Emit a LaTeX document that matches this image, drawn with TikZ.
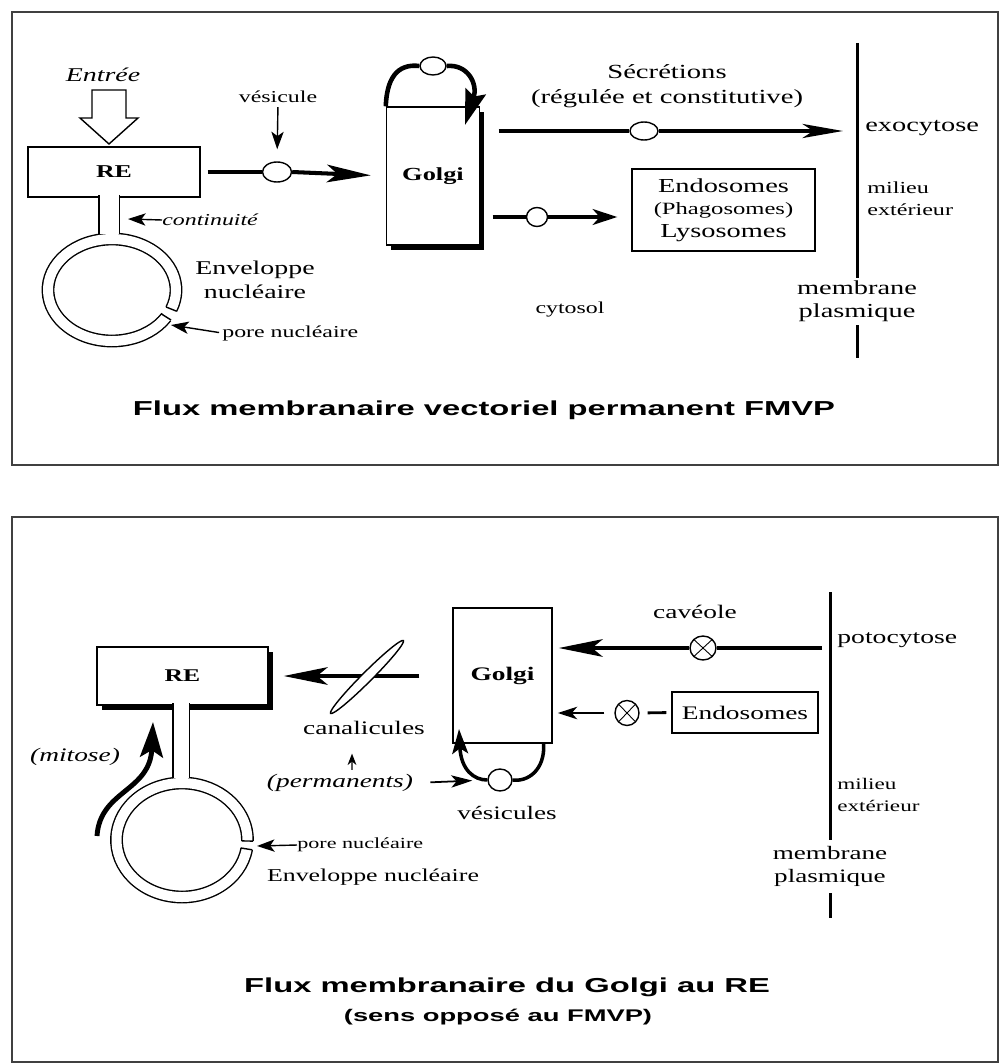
\documentclass[tikz,border=0pt]{standalone}
\usepackage{fontspec}
\setmainfont{Liberation Serif}[FakeStretch=1.43]
\newfontfamily\titlefont{Liberation Sans}[FakeStretch=1.62]
\usetikzlibrary{arrows.meta,shapes.geometric,shadows}
\newcommand\fsL{\fontsize{11.3}{13.6}\selectfont}
\newcommand\fsS{\fontsize{9.5}{12.5}\selectfont}

\begin{document}
\begin{tikzpicture}[x=0.02cm,y=-0.02cm,>=Stealth,
  box/.style={draw,line width=0.8pt,fill=white,inner sep=0pt},
  shbox/.style={box,general shadow={fill=black,shadow xshift=2.6pt,shadow yshift=-2.6pt}},
  ves/.style={draw,ellipse,line width=0.8pt,fill=white,inner sep=0pt},
  xves/.style={ves,path picture={\draw[line width=0.5pt](path picture bounding box.north west)--(path picture bounding box.south east)(path picture bounding box.north east)--(path picture bounding box.south west);}},
  lbl/.style={inner sep=0pt,font=\fsL},
  lbls/.style={inner sep=0pt,font=\fsS},
  flux/.style={line width=2.3pt},
  bigarr/.style={-{Stealth[length=25pt,width=10pt,inset=6pt]}},
  smallarr/.style={line width=0.8pt,-{Stealth[length=10pt,width=7pt,inset=2.5pt]}},
  tube/.style={line width=0.8pt,double=white,double distance=#1},
  frame/.style={line width=1.5pt,draw=black!75}]
\useasboundingbox (0,0) rectangle (1002,1064);
\draw[frame] (12,12) rectangle (998,465);
\draw[frame] (12,517) rectangle (998,1062);

\node[lbl,font=\fontsize{11.1}{12}\selectfont\itshape] (entree) at (103,75) {Entrée};
\node[box,minimum width=3.44cm,minimum height=1cm,font=\fontsize{10.3}{12}\selectfont\bfseries] (re1) at (114,172) {RE};
\draw[line width=0.8pt] (92,90)--(126,90)--(126,118)--(138,118)--(109,144)--(80,118)--(92,118)--cycle;
\coordinate (nuc1) at (112,290);
\draw[tube=0.2cm] ([shift={(32:64 and 51)}]nuc1) arc[start angle=32,end angle=382,x radius=64,y radius=51];
\draw[line width=0.8pt] ([shift={(32:58.3 and 45.3)}]nuc1)--([shift={(32:69.7 and 56.7)}]nuc1)
  ([shift={(22:58.3 and 45.3)}]nuc1)--([shift={(22:69.7 and 56.7)}]nuc1);
\draw[tube=0.38cm] (109,195)--(109,234);
\node[lbls,font=\fsS\itshape,anchor=west] (cont) at (162,220) {continuité};
\coordinate (cont1) at (128,219);
\draw[smallarr] (cont.west) -- (cont1);
\node[lbl,align=center,font=\fontsize{11.1}{13.6}\selectfont] (env1) at (255,280) {Enveloppe\\nucléaire};
\node[lbls,anchor=west] (pore1) at (222,333) {pore nucléaire};
\coordinate (pt1) at (171,325);
\draw[smallarr,shorten <=0.06cm] (pore1.west) -- (pt1);

\node[lbls] (vesl) at (278,97) {vésicule};
\node[ves,minimum width=0.58cm,minimum height=0.4cm] (ves1) at (277,172) {};
\draw[smallarr,shorten <=0.08cm,shorten >=0.24cm] (vesl.south) -- (ves1.north);
\node[shbox,minimum width=1.86cm,minimum height=2.76cm,font=\fontsize{10.5}{12}\selectfont\bfseries] (g1) at (433,176) {Golgi};
\draw[flux,shorten <=0.14cm] (re1.east) -- (ves1.west);
\draw[flux,bigarr,shorten >=0.3cm] (ves1.east) -- (g1.west);
\node[ves,minimum width=0.52cm,minimum height=0.36cm] (ves2) at (433,66) {};
\coordinate (g1in) at (465,125);
\draw[line width=2.6pt] (g1.north west) .. controls (387,72) and (402,64) .. (ves2.west);
\draw[line width=2.6pt,-{Stealth[length=20pt,width=12pt,inset=3pt]}] (ves2.east) .. controls (468,64) and (478,84) .. (g1in);

\node[lbl,align=center,font=\fontsize{11.4}{14.2}\selectfont] (secr) at (667,86) {Sécrétions\\(régulée et constitutive)};
\node[ves,minimum width=0.56cm,minimum height=0.36cm] (ves3) at (644,131) {};
\coordinate (mem1a) at (857,43);
\coordinate (mem1b) at (857,278);
\coordinate (mem1c) at (857,325);
\coordinate (mem1d) at (857,358);
\draw[line width=1.7pt] (mem1a)--(mem1b) (mem1c)--(mem1d);
\draw[flux,shorten <=0.37cm] (g1.east |- ves3) -- (ves3.west);
\draw[flux,-{Stealth[length=23pt,width=8pt,inset=6pt]},shorten >=0.28cm] (ves3.east) -- (ves3 -| mem1a);
\node[lbl,anchor=west] (exo) at (865,128) {exocytose};
\node[lbls,anchor=west,align=left,font=\fontsize{9.6}{12.5}\selectfont] (mil1) at (867,199) {milieu\\extérieur};
\node[lbl,align=center,font=\fontsize{11.3}{13}\selectfont] (mp1) at (857,301.5) {membrane\\plasmique};

\node[box,minimum width=3.66cm,minimum height=1.64cm,align=center,font=\fontsize{11.3}{12.8}\selectfont] (en1) at (723.5,210) {Endosomes\\{\fontsize{9.8}{12.8}\selectfont(Phagosomes)}\\Lysosomes};
\node[ves,minimum width=0.42cm,minimum height=0.38cm] (ves4) at (537,217) {};
\draw[line width=2pt,shorten <=0.25cm] (g1.east |- ves4) -- (ves4.west);
\draw[line width=2pt,-{Stealth[length=14pt,width=9pt,inset=4pt]},shorten >=0.28cm] (ves4.east) -- (en1.west |- ves4);
\node[lbls] (cyto) at (570,310) {cytosol};
\node[font=\titlefont\bfseries\fontsize{11.5}{13}\selectfont,inner sep=0pt] (t1) at (484,410) {Flux membranaire vectoriel permanent FMVP};

\node[shbox,minimum width=3.42cm,minimum height=1.16cm,font=\fontsize{10.2}{12}\selectfont\bfseries] (re2) at (182.5,676) {RE};
\coordinate (nuc2) at (182,840);
\draw[tube=0.2cm] ([shift={(9:65.5 and 57)}]nuc2) arc[start angle=9,end angle=361,x radius=65.5,y radius=57];
\draw[line width=0.8pt] ([shift={(9:59.8 and 51.3)}]nuc2)--([shift={(9:71.2 and 62.7)}]nuc2)
  ([shift={(1:59.8 and 51.3)}]nuc2)--([shift={(1:71.2 and 62.7)}]nuc2);
\draw[tube=0.3cm] (181,703)--(181,777.5);
\node[lbl,font=\fontsize{10.9}{12}\selectfont\itshape] (mit) at (75,757) {(mitose)};
\coordinate (mitA) at (97,836);
\coordinate (mitB) at (153,722);
\draw[line width=2.8pt,-{Stealth[length=20pt,width=13pt,inset=4pt]}] (mitA) .. controls (100,790) and (150,792) .. (mitB);
\node[lbls,anchor=west,font=\fontsize{8.8}{10}\selectfont] (pore2) at (297,845) {pore nucléaire};
\coordinate (pt2) at (257,846);
\draw[smallarr] (pore2.west) -- (pt2);
\node[lbl,font=\fontsize{10.3}{12}\selectfont] (env2) at (373,877) {Enveloppe nucléaire};

\node[box,minimum width=1.98cm,minimum height=2.7cm,font=\fontsize{10.9}{12}\selectfont\bfseries] (g2) at (502.5,675.5) {Golgi};
\draw[flux,bigarr,shorten <=0.66cm,shorten >=0.3cm] (g2.west |- re2) -- (re2.east);
\node[draw,ellipse,fill=white,line width=0.8pt,minimum width=2.06cm,minimum height=0.2cm,inner sep=0pt,rotate=45] (can) at (367,677) {};
\node[lbl,font=\fontsize{10.9}{12}\selectfont] (canl) at (364,728) {canalicules};
\node[lbl,font=\fontsize{10.9}{12}\selectfont\itshape] (perm) at (340,783) {(permanents)};
\draw[line width=0.8pt,-{Stealth[length=6.5pt,width=5pt,inset=2pt]},shorten <=0.08cm,shorten >=0.37cm] ([xshift=0.24cm]perm.north) -- ([xshift=-0.24cm]canl.south);
\node[ves,minimum width=0.48cm,minimum height=0.44cm] (ves6) at (500,780) {};
\node[lbl,font=\fontsize{10.8}{12}\selectfont] (vesl2) at (507,813) {vésicules};
\draw[line width=1pt,-{Stealth[length=12pt,width=7pt,inset=3pt]},shorten <=0.34cm,shorten >=0.3cm] (perm.east) -- (ves6.west);
\coordinate (g2in) at (459,729);
\draw[line width=2pt] ([xshift=-0.18cm]g2.south east) .. controls (545,770) and (528,782) .. (ves6.east);
\draw[line width=2pt,-{Stealth[length=14pt,width=9pt,inset=3pt]}] (ves6.west) .. controls (474,780) and (461,770) .. (g2in);

\node[lbl,font=\fontsize{10.9}{12}\selectfont] (cav) at (695,612) {cavéole};
\node[xves,minimum width=0.52cm,minimum height=0.48cm] (ves7) at (703,648) {};
\coordinate (mem2a) at (830,592);
\coordinate (mem2b) at (830,840);
\coordinate (mem2c) at (830,893);
\coordinate (mem2d) at (830,918);
\draw[line width=1.7pt] (mem2a)--(mem2b) (mem2c)--(mem2d);
\draw[flux,shorten <=0.16cm] (ves7 -| mem2a) -- (ves7.east);
\draw[flux,bigarr,shorten >=0.12cm] (ves7.west) -- (g2.east |- ves7);
\node[box,minimum width=2.92cm,minimum height=0.82cm,font=\fontsize{10.9}{12}\selectfont] (en2) at (745,712.5) {Endosomes};
\node[xves,minimum width=0.48cm,minimum height=0.5cm] (ves8) at (627,713) {};
\draw[line width=1.6pt,shorten <=0.1cm,shorten >=0.16cm] (en2.west) -- (ves8.east);
\draw[line width=1.6pt,-{Stealth[length=11pt,width=7pt,inset=3pt]},shorten <=0.2cm,shorten >=0.1cm] (ves8.west) -- (g2.east |- ves8);
\node[lbl,anchor=west,font=\fontsize{11}{12}\selectfont] (poto) at (837,640) {potocytose};
\node[lbls,anchor=west,align=left,font=\fontsize{9.2}{12.5}\selectfont] (mil2) at (837,794.5) {milieu\\extérieur};
\node[lbl,align=center,font=\fontsize{10.8}{13}\selectfont] (mp2) at (830,866.5) {membrane\\plasmique};
\node[font=\titlefont\bfseries\fontsize{11.5}{13}\selectfont,inner sep=0pt] (t2) at (507,987) {Flux membranaire du Golgi au RE};
\node[font=\titlefont\bfseries\fontsize{9.6}{11}\selectfont,inner sep=0pt] (t3) at (498,1017) {(sens opposé au FMVP)};
\end{tikzpicture}
\end{document}
